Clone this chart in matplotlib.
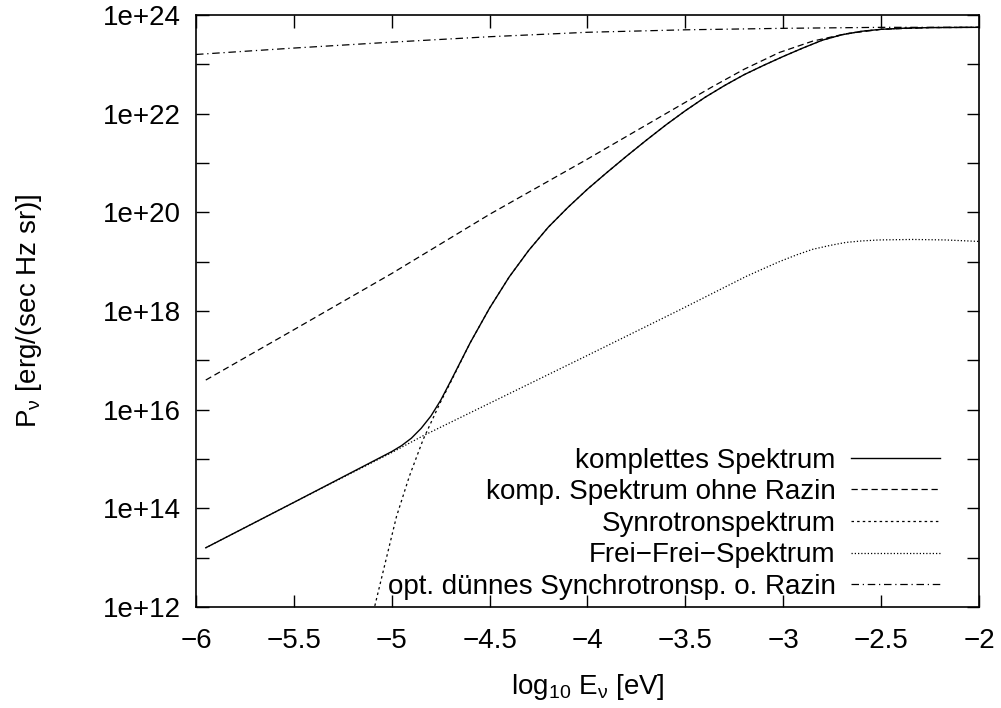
"""Spectrum plot: synchrotron, free-free and combined emission vs. photon energy."""
import numpy as np
import matplotlib
matplotlib.use("Agg")
import matplotlib.pyplot as plt
from matplotlib.ticker import FixedLocator, NullFormatter

plt.rcParams["font.family"] = ["Liberation Sans", "DejaVu Sans"]
plt.rcParams["mathtext.default"] = "regular"

# log10 E [eV]  /  log10 P [erg/(sec Hz sr)]
x_komp = [-5.95, -5.5, -5.0, -4.95, -4.9, -4.85, -4.8, -4.75, -4.7, -4.65, -4.6,
          -4.5, -4.4, -4.3, -4.2, -4.1, -4.0, -3.9, -3.8, -3.7, -3.6, -3.5, -3.4,
          -3.3, -3.2, -3.1, -3.0, -2.9, -2.8, -2.7, -2.6, -2.5, -2.4, -2.25, -2.0]
y_komp = [13.20, 14.12, 15.15, 15.27, 15.42, 15.62, 15.87, 16.19, 16.57, 16.96, 17.35,
          18.06, 18.69, 19.23, 19.70, 20.10, 20.47, 20.81, 21.14, 21.46, 21.77, 22.06,
          22.33, 22.57, 22.79, 22.98, 23.16, 23.33, 23.49, 23.60, 23.67, 23.71, 23.73,
          23.745, 23.75]

x_ohne = [-5.95, -5.5, -5.0, -4.5, -4.0, -3.7, -3.5, -3.36, -3.2, -3.02, -2.85, -2.68,
          -2.5, -2.25, -2.0]
y_ohne = [16.60, 17.62, 18.76, 19.96, 21.08, 21.77, 22.23, 22.55, 22.90, 23.24, 23.47,
          23.62, 23.71, 23.745, 23.75]

x_syn = [-5.10, -5.05, -4.976, -4.91, -4.84, -4.755, -4.7, -4.65, -4.6, -4.5, -4.4,
         -4.3, -4.2, -4.1, -4.0, -3.9, -3.8, -3.7, -3.6, -3.5, -3.4, -3.3, -3.2, -3.1,
         -3.0, -2.9, -2.8, -2.7, -2.6, -2.5, -2.4, -2.25, -2.0]
y_syn = [11.80, 12.62, 13.83, 14.65, 15.39, 16.12, 16.55, 16.95, 17.35, 18.06, 18.69,
         19.23, 19.70, 20.10, 20.47, 20.81, 21.14, 21.46, 21.77, 22.06, 22.33, 22.57,
         22.79, 22.98, 23.16, 23.33, 23.49, 23.60, 23.67, 23.71, 23.73, 23.745, 23.75]

x_ff = [-5.95, -5.5, -5.0, -4.84, -4.5, -4.0, -3.53, -3.19, -3.1, -3.02, -2.93, -2.85,
        -2.76, -2.68, -2.6, -2.51, -2.34, -2.17, -2.0]
y_ff = [13.20, 14.12, 15.13, 15.47, 16.13, 17.10, 18.02, 18.70, 18.86, 19.00, 19.14,
        19.25, 19.33, 19.39, 19.42, 19.44, 19.45, 19.44, 19.41]

x_thin = [-6.0, -5.5, -5.0, -4.5, -4.0, -3.5, -3.0, -2.5, -2.0]
y_thin = [23.20, 23.33, 23.45, 23.56, 23.65, 23.70, 23.73, 23.75, 23.75]

labels = ["komplettes Spektrum", "komp. Spektrum ohne Razin", "Synrotronspektrum",
          "Frei\u2212Frei\u2212Spektrum", "opt. dünnes Synchrotronsp. o. Razin"]

xticks = [-6, -5.5, -5, -4.5, -4, -3.5, -3, -2.5, -2]
xticklabels = ["\u22126", "\u22125.5", "\u22125", "\u22124.5", "\u22124", "\u22123.5",
               "\u22123", "\u22122.5", "\u22122"]
ydecades = [12, 14, 16, 18, 20, 22, 24]
yticklabels = ["1e+12", "1e+14", "1e+16", "1e+18", "1e+20", "1e+22", "1e+24"]

fig = plt.figure(figsize=(10.01, 7.08), dpi=100)
ax = fig.add_axes([0.1958, 0.1427, 0.978 - 0.1958, 0.9788 - 0.1427])

lw = 0.9
ax.plot(x_syn, 10.0 ** np.array(y_syn), color="black", lw=lw, dashes=(2, 2.5),
        label=labels[2], zorder=2)
ax.plot(x_ff, 10.0 ** np.array(y_ff), color="black", lw=lw, dashes=(1, 1.6),
        label=labels[3], zorder=2)
ax.plot(x_thin, 10.0 ** np.array(y_thin), color="black", lw=lw, dashes=(6, 3, 1, 3),
        label=labels[4], zorder=2)
ax.plot(x_ohne, 10.0 ** np.array(y_ohne), color="black", lw=lw, dashes=(5, 3),
        label=labels[1], zorder=3)
ax.plot(x_komp, 10.0 ** np.array(y_komp), color="black", lw=lw + 0.1,
        label=labels[0], zorder=4)

ax.set_yscale("log")
ax.set_xlim(-6, -2)
ax.set_ylim(1e12, 1e24)

ax.set_xticks(xticks)
ax.set_xticklabels(xticklabels)
ax.yaxis.set_major_locator(FixedLocator([10.0 ** d for d in ydecades]))
ax.set_yticklabels(yticklabels)
ax.yaxis.set_minor_locator(FixedLocator([10.0 ** d for d in range(13, 24, 2)]))
ax.yaxis.set_minor_formatter(NullFormatter())

ax.tick_params(which="both", direction="in", top=True, right=True, length=9, width=1,
               labelsize=20)
ax.tick_params(axis="y", pad=11)
ax.tick_params(axis="x", pad=15)
for s in ax.spines.values():
    s.set_linewidth(1.2)

ax.set_xlabel(r"log$_{10}$ E$_{ν}$ [eV]", fontsize=20, labelpad=13)
ax.set_ylabel(r"P$_{ν}$ [erg/(sec Hz sr)]", fontsize=20, labelpad=42)

handles, labs = ax.get_legend_handles_labels()
order = [labs.index(l) for l in labels]
ax.legend([handles[i] for i in order], labels, loc="lower right",
          bbox_to_anchor=(0.950, 0.012), markerfirst=False, frameon=False,
          fontsize=20, handlelength=3.2, handletextpad=0.55, labelspacing=0.20,
          borderpad=0, borderaxespad=0)

fig.savefig("out.png", dpi=100)
